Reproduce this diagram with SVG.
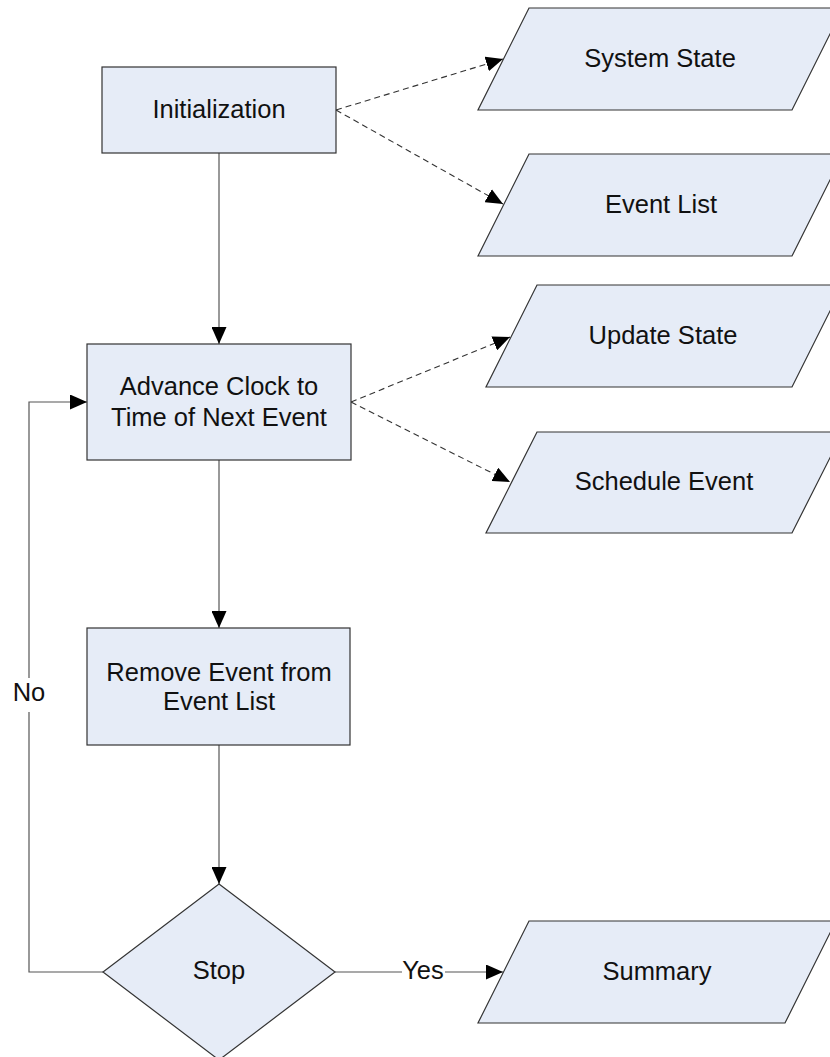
<svg xmlns="http://www.w3.org/2000/svg" width="830" height="1057" viewBox="0 0 830 1057">
<style>
.node{fill:#E6ECF7;stroke:#333;stroke-width:1.2}
.t{font-family:"Liberation Sans",Arial,sans-serif;font-size:25.5px;fill:#111;text-anchor:middle}
.c{fill:none;stroke:#555;stroke-width:1.2}
.d{fill:none;stroke:#333;stroke-width:1.1;stroke-dasharray:6,4}
</style>
<defs>
<marker id="ah" markerUnits="userSpaceOnUse" markerWidth="17" markerHeight="15" refX="17" refY="7.5" orient="auto">
<path d="M0,0 L17,7.5 L0,15 z" fill="#000"/>
</marker>
</defs>
<rect width="830" height="1057" fill="#fff"/>
<g id="connectors">
<line class="c" x1="219" y1="153" x2="219" y2="344" marker-end="url(#ah)"/>
<line class="c" x1="219" y1="460" x2="219" y2="628" marker-end="url(#ah)"/>
<line class="c" x1="219" y1="745" x2="219" y2="884" marker-end="url(#ah)"/>
<polyline class="c" points="103,972 29,972 29,712"/>
<polyline class="c" points="29,678 29,402 87,402" marker-end="url(#ah)"/>
<line class="c" x1="335" y1="972" x2="402" y2="972"/>
<line class="c" x1="445" y1="972" x2="503" y2="972" marker-end="url(#ah)"/>
<line class="d" x1="336" y1="110" x2="503" y2="59" marker-end="url(#ah)"/>
<line class="d" x1="336" y1="110" x2="503" y2="204" marker-end="url(#ah)"/>
<line class="d" x1="351" y1="402" x2="510" y2="337" marker-end="url(#ah)"/>
<line class="d" x1="351" y1="402" x2="510" y2="482" marker-end="url(#ah)"/>
<text class="t" x="29" y="701">No</text>
<text class="t" x="423" y="979">Yes</text>
</g>
<g id="init">
<rect class="node" x="102" y="67" width="234" height="86"/>
<text class="t" x="219" y="118">Initialization</text>
</g>
<g id="advance">
<rect class="node" x="87" y="344" width="264" height="116"/>
<text class="t" x="219" y="395">Advance Clock to</text>
<text class="t" x="219" y="426">Time of Next Event</text>
</g>
<g id="remove">
<rect class="node" x="87" y="628" width="263" height="117"/>
<text class="t" x="219" y="681">Remove Event from</text>
<text class="t" x="219" y="710">Event List</text>
</g>
<g id="stop">
<polygon class="node" points="219,884 335,972 219,1060 103,972"/>
<text class="t" x="219" y="979">Stop</text>
</g>
<g id="systemstate">
<polygon class="node" points="529,8 843,8 792,110 478,110"/>
<text class="t" x="660" y="67">System State</text>
</g>
<g id="eventlist">
<polygon class="node" points="529,154 843,154 792,256 478,256"/>
<text class="t" x="661" y="213">Event List</text>
</g>
<g id="updatestate">
<polygon class="node" points="537,285 843,285 792,387 486,387"/>
<text class="t" x="663" y="344">Update State</text>
</g>
<g id="schedule">
<polygon class="node" points="537,432 843,432 792,533 486,533"/>
<text class="t" x="664" y="490">Schedule Event</text>
</g>
<g id="summary">
<polygon class="node" points="529,921 836,921 785,1023 478,1023"/>
<text class="t" x="657" y="980">Summary</text>
</g>
</svg>
